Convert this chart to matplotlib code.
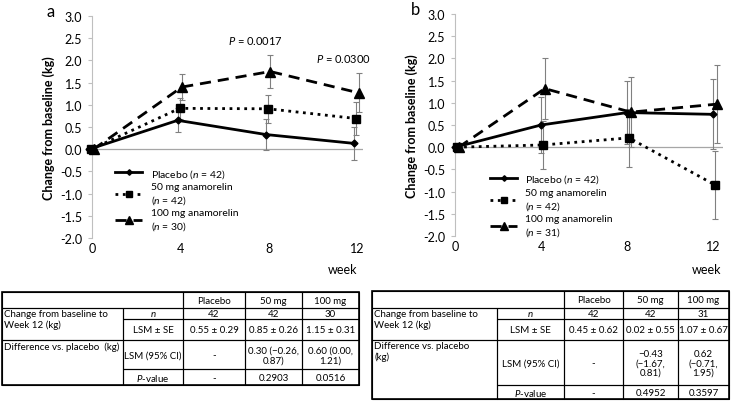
import matplotlib
matplotlib.use("Agg")
import matplotlib.pyplot as plt
from matplotlib.patches import Rectangle

plt.rcParams['font.family'] = ['Lato', 'DejaVu Sans']
plt.rcParams['mathtext.fontset'] = 'custom'
plt.rcParams['mathtext.it'] = 'Lato:italic'
plt.rcParams['mathtext.rm'] = 'Lato'

# données
weeks = [0, 4, 8, 12]
week_labels = ['0', '4', '8', '12']
yticks = [-2.0, -1.5, -1.0, -0.5, 0.0, 0.5, 1.0, 1.5, 2.0, 2.5, 3.0]

a_placebo = [0, 0.65, 0.33, 0.13]
a_placebo_err = [0, 0.27, 0.34, 0.38]
a_50 = [0, 0.92, 0.91, 0.69]
a_50_err = [0, 0.24, 0.32, 0.38]
a_100 = [0, 1.40, 1.75, 1.27]
a_100_err = [0, 0.30, 0.38, 0.44]

b_placebo = [0, 0.50, 0.78, 0.74]
b_placebo_err = [0, 0.62, 0.70, 0.79]
b_50 = [0, 0.05, 0.21, -0.85]
b_50_err = [0, 0.53, 0.65, 0.76]
b_100 = [0, 1.32, 0.79, 0.97]
b_100_err = [0, 0.68, 0.78, 0.88]

a_labels = ['Placebo ($\\it{n}$ = 42)', '50 mg anamorelin\n($\\it{n}$ = 42)', '100 mg anamorelin\n($\\it{n}$ = 30)']
b_labels = ['Placebo ($\\it{n}$ = 42)', '50 mg anamorelin\n($\\it{n}$ = 42)', '100 mg anamorelin\n($\\it{n}$ = 31)']

a_pvals = [(8, 'P = 0.0017'), (12, 'P = 0.0300')]

table_cols = ['Placebo', '50 mg', '100 mg']
a_n = ['42', '42', '30']
a_lsm = ['0.55 \u00b1 0.29', '0.85 \u00b1 0.26', '1.15 \u00b1 0.31']
a_diff = ['-', '0.30 (\u22120.26,\n0.87)', '0.60 (0.00,\n1.21)']
a_p = ['-', '0.2903', '0.0516']
b_n = ['42', '42', '31']
b_lsm = ['0.45 \u00b1 0.62', '0.02 \u00b1 0.55', '1.07 \u00b1 0.67']
b_diff = ['-', '\u22120.43\n(\u22121.67,\n0.81)', '0.62\n(\u22120.71,\n1.95)']
b_p = ['-', '0.4952', '0.3597']

W, H = 739, 402
fig = plt.figure(figsize=(W / 100, H / 100), dpi=100)


def panel(rect, xmax, offs, series, labels, leg_xy):
    ax = fig.add_axes(rect)
    styles = [('-', 'D', 3.5, 2.0), (':', 's', 5.5, 2.0), ((0, (4, 2.5)), '^', 7, 2.0)]
    for (y, e), (ls, mk, ms, lw), lab, dx in zip(series, styles, labels, offs):
        x = [w + dx for w in weeks]
        ax.errorbar(x, y, yerr=e, fmt='none', ecolor='#808080', elinewidth=0.8,
                    capsize=2.5, capthick=0.8, zorder=2)
        ax.plot(x, y, linestyle=ls, marker=mk, markersize=ms, linewidth=lw,
                color='black', label=lab, zorder=3, clip_on=False)
    ax.axhline(0, color='#a6a6a6', lw=0.9, zorder=1)
    ax.set_xlim(0, xmax)
    ax.set_ylim(-2, 3)
    ax.set_yticks(yticks)
    ax.set_yticklabels(['%.1f' % v for v in yticks])
    ax.set_xticks(weeks)
    ax.set_xticklabels(week_labels)
    for s in ['top', 'right', 'bottom']:
        ax.spines[s].set_visible(False)
    ax.spines['left'].set_color('#bfbfbf')
    ax.spines['left'].set_linewidth(0.8)
    ax.tick_params(axis='y', length=3, width=0.8, color='#bfbfbf', labelsize=9, pad=4)
    ax.tick_params(axis='x', length=0, labelsize=9, pad=3)
    ax.set_ylabel('Change from baseline (kg)', fontsize=9, fontweight='bold', labelpad=4)
    leg = ax.legend(loc='upper left', bbox_to_anchor=leg_xy, frameon=False, fontsize=7.5,
                    handlelength=2.6, handletextpad=0.8, labelspacing=0.25, borderaxespad=0,
                    markerscale=0.8)
    for t in leg.get_texts():
        t.set_linespacing(1.2)
    return ax


ax_a = panel([92 / W, 1 - 239 / H, 271 / W, 222 / H], 12.27, [-0.12, -0.03, 0.07],
             [(a_placebo, a_placebo_err), (a_50, a_50_err), (a_100, a_100_err)],
             a_labels, (0.07, 0.34))
ax_b = panel([455 / W, 1 - 237 / H, 268 / W, 222 / H], 12.45, [0, 0.08, 0.17],
             [(b_placebo, b_placebo_err), (b_50, b_50_err), (b_100, b_100_err)],
             b_labels, (0.115, 0.305))

for wk, txt in a_pvals:
    idx = weeks.index(wk)
    ax_a.text(wk - 0.6, a_100[idx] + a_100_err[idx] + 0.2, '$\\it{P}$' + txt[1:],
              fontsize=8, ha='center', va='bottom')

# calque en pixels pour les textes libres et les tableaux
ov = fig.add_axes([0, 0, 1, 1], zorder=-1)
ov.set_xlim(0, W)
ov.set_ylim(H, 0)
ov.axis('off')
ov.text(51, 12, 'a', fontsize=12, ha='center', va='center')
ov.text(415, 10, 'b', fontsize=12, ha='center', va='center')
ov.text(343, 270, 'week', fontsize=9, ha='center', va='center')
ov.text(707, 270, 'week', fontsize=9, ha='center', va='center')


def table(xe, ye, n, lsm, diff, pv, diff_label):
    def cell(r0, r1, c0, c1, txt, ha='center'):
        x0, x1, y0, y1 = xe[c0], xe[c1], ye[r0], ye[r1]
        ov.add_patch(Rectangle((x0, y0), x1 - x0, y1 - y0, fill=False, lw=0.8, ec='black'))
        if ha == 'left':
            ov.text(x0 + 2.5, y0 + 1.5, txt, fontsize=7, ha='left', va='top', linespacing=1.1)
        else:
            ov.text((x0 + x1) / 2, (y0 + y1) / 2 + 0.5, txt, fontsize=7, ha='center',
                    va='center', linespacing=1.05)
    cell(0, 1, 0, 2, '')
    for j, c in enumerate(table_cols):
        cell(0, 1, 2 + j, 3 + j, c)
    cell(1, 3, 0, 1, 'Change from baseline to\nWeek 12 (kg)', ha='left')
    cell(1, 2, 1, 2, '$\\it{n}$')
    cell(2, 3, 1, 2, 'LSM \u00b1 SE')
    cell(3, 5, 0, 1, diff_label, ha='left')
    cell(3, 4, 1, 2, 'LSM (95% CI)')
    cell(4, 5, 1, 2, '$\\it{P}$-value')
    for j in range(3):
        cell(1, 2, 2 + j, 3 + j, n[j])
        cell(2, 3, 2 + j, 3 + j, lsm[j])
        cell(3, 4, 2 + j, 3 + j, diff[j])
        cell(4, 5, 2 + j, 3 + j, pv[j])
    ov.add_patch(Rectangle((xe[0], ye[0]), xe[-1] - xe[0], ye[-1] - ye[0], fill=False, lw=1.2, ec='black'))


table([1.5, 123, 183, 245, 302, 359], [293, 309, 320, 341, 370, 386],
      a_n, a_lsm, a_diff, a_p, 'Difference vs. placebo  (kg)')
table([372, 497, 564, 623, 678, 729], [292, 309, 320, 341, 386, 400],
      b_n, b_lsm, b_diff, b_p, 'Difference vs. placebo\n(kg)')

fig.savefig('out.png', dpi=100)
